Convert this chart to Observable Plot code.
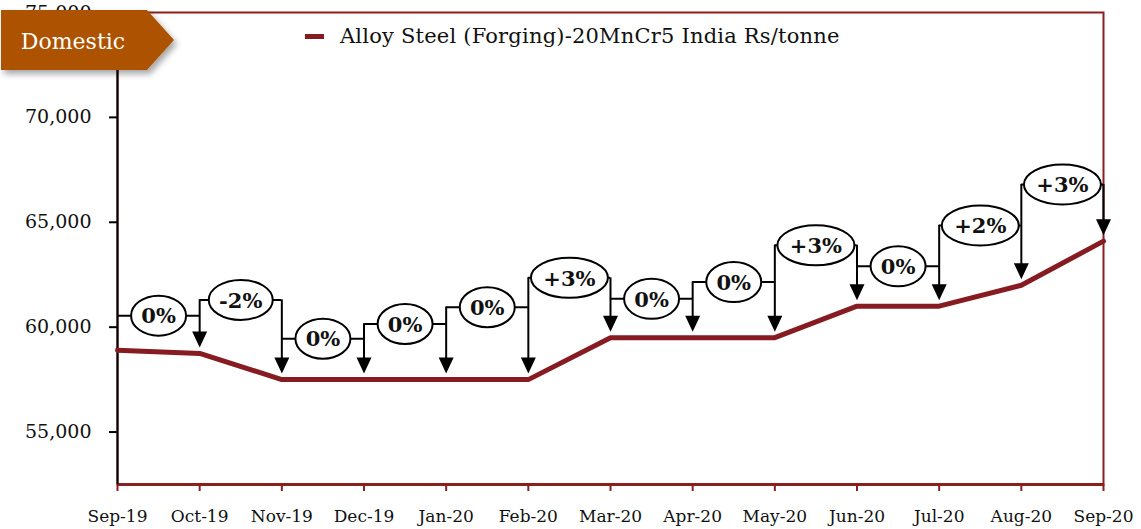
<!DOCTYPE html>
<html>
<head>
<meta charset="utf-8">
<script src="https://cdn.jsdelivr.net/npm/d3@7"></script>
<script src="https://cdn.jsdelivr.net/npm/@observablehq/plot@0.6"></script>
<style>
  html, body { margin: 0; padding: 0; background: #fff; }
  #wrap { position: relative; width: 1141px; height: 529px; font-family: "DejaVu Serif", "Liberation Serif", serif; overflow: hidden; }
  #wrap > svg.plot { position: absolute; left: 0; top: 0; }
  #legend { position: absolute; left: 305px; top: 23px; height: 28px; }
  #legend .sw { position: absolute; left: 0; top: 11px; width: 19px; height: 5px; background: #861c22; }
  #legend .tx { position: absolute; left: 35px; top: 0; white-space: nowrap; font-size: 21px; line-height: 27px; color: #111; letter-spacing: 0.2px; }
  #tag { position: absolute; left: 0; top: 0; }
</style>
</head>
<body>
<div id="wrap"></div>
<script>
// ---- data ----
const months = ["Sep-19","Oct-19","Nov-19","Dec-19","Jan-20","Feb-20","Mar-20","Apr-20","May-20","Jun-20","Jul-20","Aug-20","Sep-20"];
const prices = [58900, 58750, 57500, 57500, 57500, 57500, 59500, 59500, 59500, 61000, 61000, 62000, 64100];
const changeLabels = ["0%","-2%","0%","0%","0%","+3%","0%","0%","+3%","0%","+2%","+3%"];
// level (Rs/tonne) at which each month-to-month change callout sits
const calloutLevels = [60550, 61300, 59450, 60150, 60950, 62350, 61350, 62150, 63900, 62900, 64850, 66800];
const yTicks = [55000, 60000, 65000, 70000, 75000];
const seriesName = "Alloy Steel (Forging)-20MnCr5 India Rs/tonne";
const tagText = "Domestic";

// ---- tables built from the arrays ----
const series = months.map((m, i) => ({i, month: m, price: prices[i]}));
const callouts = changeLabels.map((label, i) => ({from: i, to: i + 1, mid: i + 0.5, level: calloutLevels[i], label}));
const drops = months.slice(1).map((m, k) => {
  const j = k + 1;
  const top = Math.max(calloutLevels[j - 1], j < calloutLevels.length ? calloutLevels[j] : -Infinity);
  return {x: j, top, price: prices[j]};
});

// ---- styles ----
const maroon = "#861c22";
const borderRed = "#8b1f1f";
const serif = "DejaVu Serif, Liberation Serif, serif";

const ellipseSymbol = {
  draw(ctx, size) {
    const rx = Math.sqrt(size / Math.PI), ry = 20, k = 0.5523;
    ctx.moveTo(rx, 0);
    ctx.bezierCurveTo(rx, ry * k, rx * k, ry, 0, ry);
    ctx.bezierCurveTo(-rx * k, ry, -rx, ry * k, -rx, 0);
    ctx.bezierCurveTo(-rx, -ry * k, -rx * k, -ry, 0, -ry);
    ctx.bezierCurveTo(rx * k, -ry, rx, -ry * k, rx, 0);
    ctx.closePath();
  }
};
const arrowHead = {
  draw(ctx) {
    ctx.moveTo(-7.5, -16);
    ctx.lineTo(7.5, -16);
    ctx.lineTo(0, 0);
    ctx.closePath();
  }
};
const halfWidth = (l) => l === "0%" ? 27.5 : (l.startsWith("-") ? 32 : 38.5);
const widths = Array.from(new Set(changeLabels.map(halfWidth)));

const chart = Plot.plot({
  width: 1141,
  height: 529,
  marginLeft: 117,
  marginRight: 38,
  marginTop: 12,
  marginBottom: 45,
  style: {fontFamily: serif, background: "transparent", overflow: "visible"},
  x: {domain: [0, months.length - 1]},
  y: {domain: [52500, 75000]},
  marks: [
    Plot.frame({stroke: borderRed, strokeWidth: 2}),
    Plot.ruleY([52500], {stroke: borderRed, strokeWidth: 3}),
    Plot.axisY(yTicks, {
      tickSize: 8, tickPadding: 18, tickFormat: d3.format(","), fontSize: 19,
      stroke: "black", strokeWidth: 2, fill: "#111", label: null,
      style: {letterSpacing: "2px"}
    }),
    Plot.axisX(d3.range(months.length), {
      tickSize: 7, tickPadding: 18, tickFormat: (i) => months[i], fontSize: 17,
      stroke: borderRed, strokeWidth: 2, fill: "#111", label: null,
      style: {letterSpacing: "0.4px"}
    }),
    Plot.ruleX([0], {stroke: "black", strokeWidth: 2}),
    Plot.line(series, {x: "i", y: "price", stroke: maroon, strokeWidth: 5, strokeLinejoin: "miter"}),
    Plot.ruleY(callouts, {y: "level", x1: "from", x2: "to", stroke: "black", strokeWidth: 2}),
    Plot.ruleX(drops, {x: "x", y1: "top", y2: "price", stroke: "black", strokeWidth: 2, insetBottom: 20}),
    ...widths.map((w) => Plot.dot(callouts.filter((d) => halfWidth(d.label) === w), {
      x: "mid", y: "level", r: w, symbol: ellipseSymbol, fill: "white", stroke: "black", strokeWidth: 2
    })),
    Plot.text(callouts, {x: "mid", y: "level", text: "label", fontSize: 21, fontWeight: "bold", fill: "#111", fontFamily: serif, dy: 1}),
    Plot.dot(drops, {x: "x", y: "price", symbol: arrowHead, r: 5, fill: "black", stroke: "none", dy: -6})
  ]
});
chart.classList.add("plot");
const wrap = document.getElementById("wrap");
wrap.appendChild(chart);

// legend
const legend = document.createElement("div");
legend.id = "legend";
legend.innerHTML = `<div class="sw"></div><div class="tx"></div>`;
legend.querySelector(".tx").textContent = seriesName;
wrap.appendChild(legend);

// "Domestic" tag
const ns = "http://www.w3.org/2000/svg";
const tag = document.createElementNS(ns, "svg");
tag.setAttribute("id", "tag");
tag.setAttribute("width", "200");
tag.setAttribute("height", "90");
tag.innerHTML = `<defs><filter id="sh" x="-20%" y="-20%" width="150%" height="160%"><feDropShadow dx="3" dy="4" stdDeviation="3" flood-color="#000" flood-opacity="0.35"/></filter></defs>
<polygon points="1,10 147,10 174,40 147,70 1,70" fill="#ad5204" filter="url(#sh)"/>
<text x="73" y="41" text-anchor="middle" dominant-baseline="central" fill="#fff" font-size="22" font-family="DejaVu Serif, serif"></text>`;
tag.querySelector("text").textContent = tagText;
wrap.appendChild(tag);
</script>
</body>
</html>
